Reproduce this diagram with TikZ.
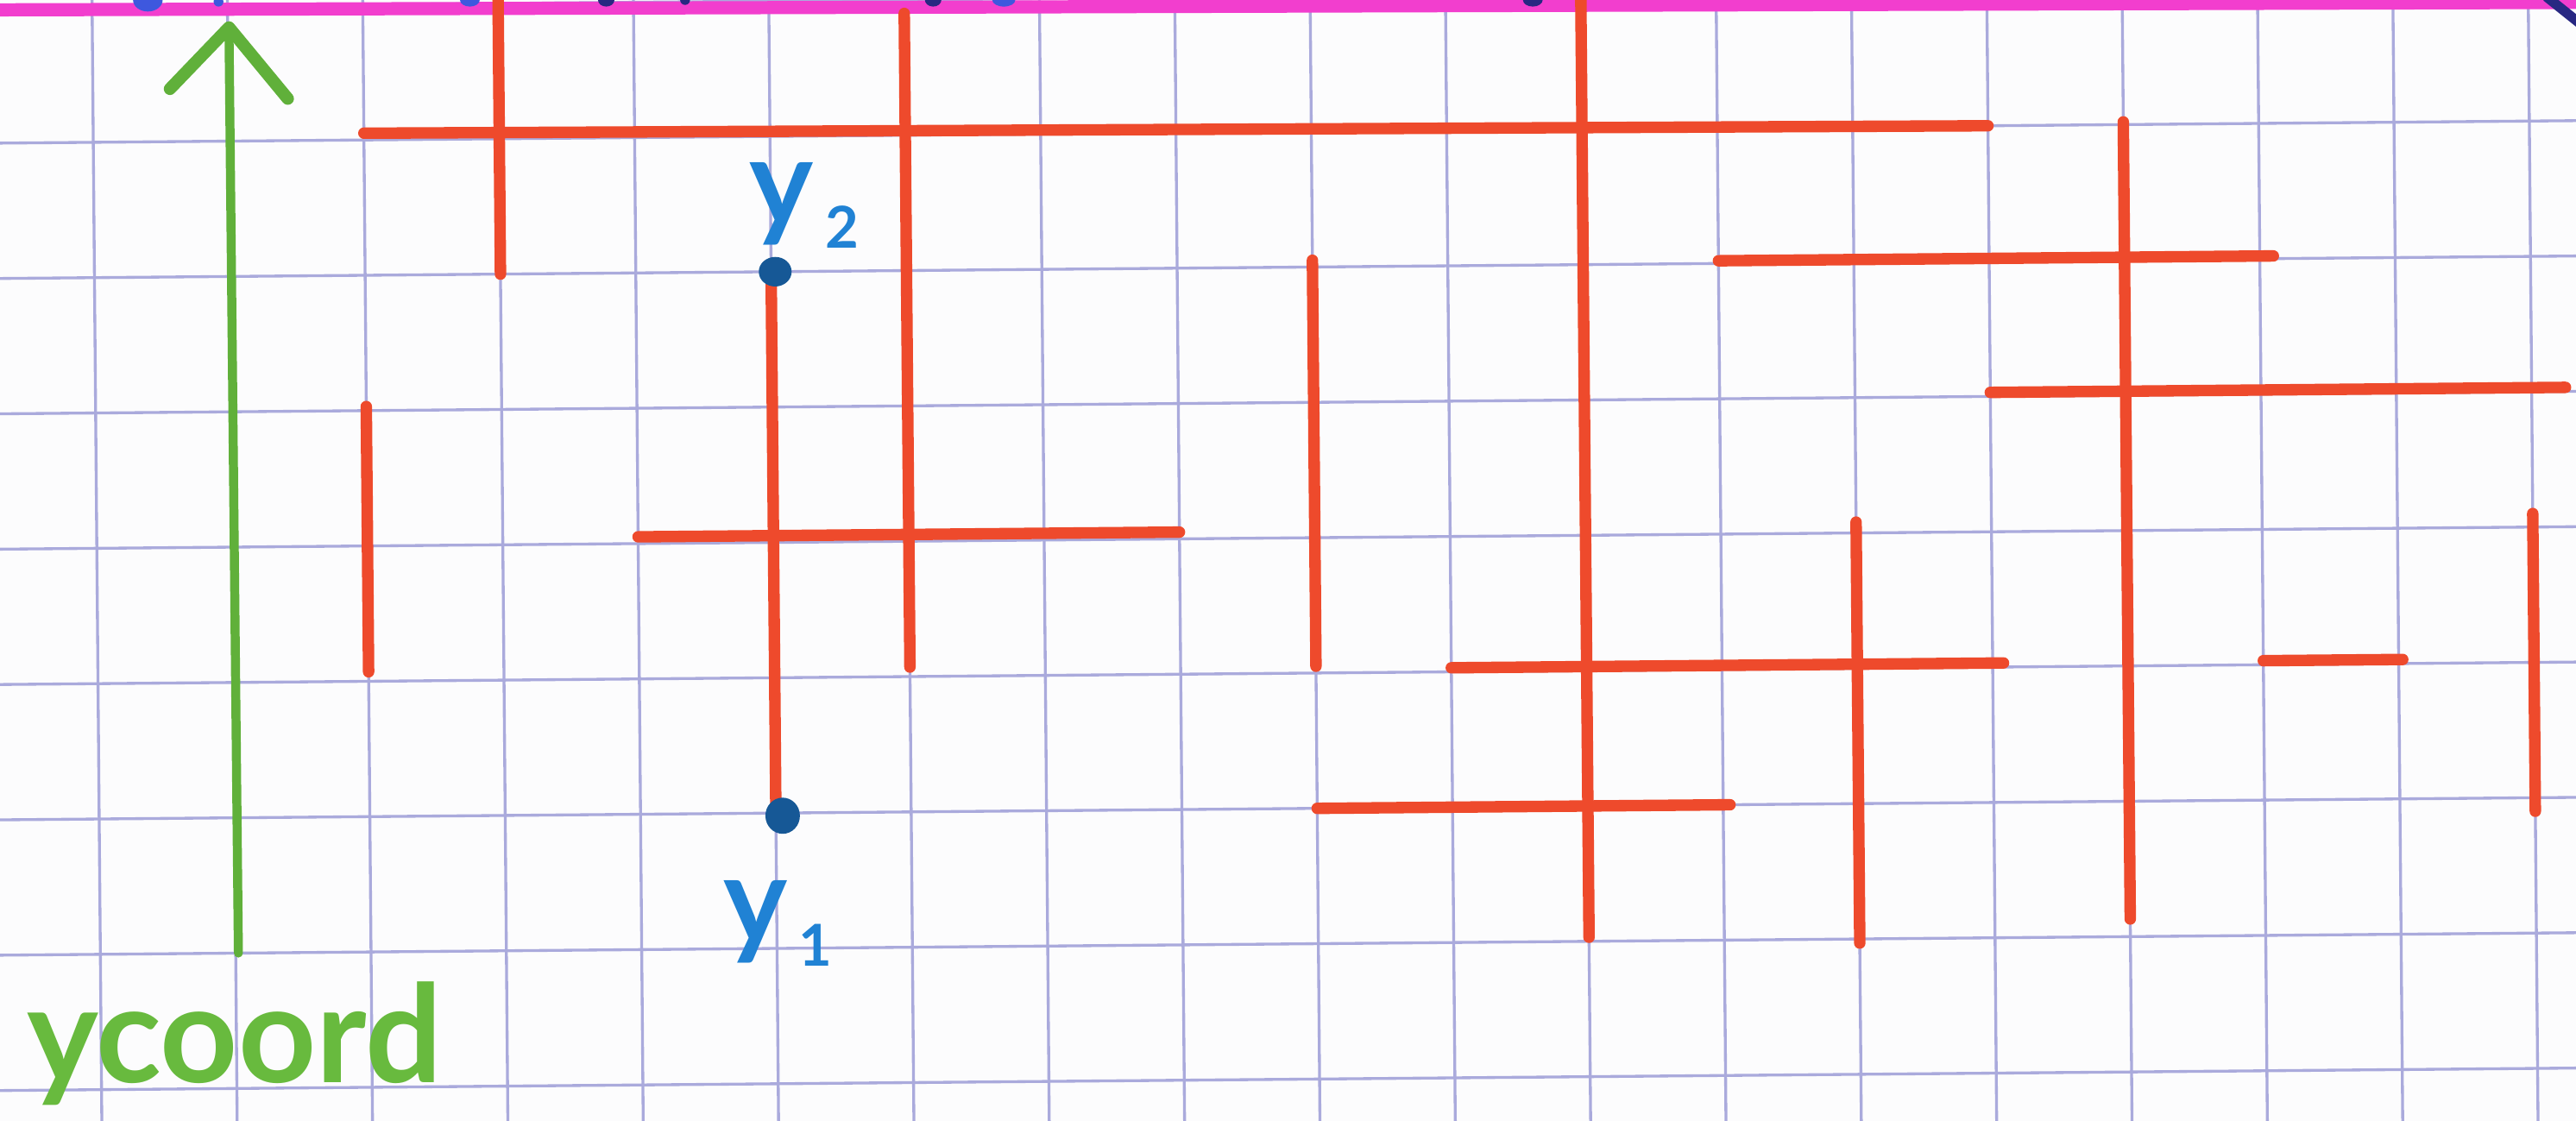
\documentclass[tikz,border=0pt]{standalone}
\usepackage{fontspec}
\newfontfamily\hand{Lato}
\definecolor{paper}{RGB}{252,252,253}
\definecolor{gridc}{RGB}{170,170,220}
\definecolor{redm}{RGB}{238,74,44}
\definecolor{greenm}{RGB}{104,186,62}
\definecolor{greenarrow}{RGB}{96,176,58}
\definecolor{bluem}{RGB}{32,130,212}
\definecolor{bluedot}{RGB}{22,88,150}
\definecolor{magm}{RGB}{242,62,206}
\definecolor{inkblue}{RGB}{62,88,222}
\definecolor{inknavy}{RGB}{40,40,130}
\tikzset{
  gridline/.style={draw=gridc, line width=0.035cm},
  redline/.style={draw=redm, line width=0.14cm, line cap=round},
  magline/.style={draw=magm, line width=0.16cm},
  axisline/.style={draw=greenarrow, line width=0.11cm, line cap=round},
  axishead/.style={draw=greenarrow, line width=0.15cm, line cap=round, line join=round},
  axislabel/.style={text=greenm, font=\hand\bfseries\fontsize{47}{47}\selectfont, inner sep=0pt, anchor=base west},
  ptlabel/.style={text=bluem, inner sep=0pt, anchor=base west},
  ptdot/.style={fill=bluedot},
}
\newcommand{\biglet}{\hand\bfseries\fontsize{42}{42}\selectfont}
\newcommand{\subdig}[1]{\hspace{4pt}\raisebox{-8pt}{\hand\bfseries\fontsize{20}{20}\selectfont #1}}
\begin{document}
\begin{tikzpicture}[x=0.02cm,y=0.02cm]
\useasboundingbox (0,0) rectangle (1568,-682);
\clip (0,0) rectangle (1568,-682);
\fill[paper] (-10,10) rectangle (1580,-690);
% graph paper grid
\begin{scope}[rotate around={0.5:(784,-341)}, shift={(59,2.1)}, x=1.648cm, y=-1.648cm]
  \foreach \i in {-1,...,19} \draw[gridline] (\i,-0.5) -- (\i,9);
  \foreach \j in {0,...,9} \draw[gridline] (-1.5,\j) -- (19.5,\j);
\end{scope}
% magenta line at the top
\draw[magline] (0,-6) -- (1568,-1.5);
% cut-off ink marks above the magenta line
\fill[inkblue] (90,0) ellipse (9 and 7);
\fill[inkblue] (133,-1) circle (3);
\fill[inkblue] (286,0) ellipse (6 and 4);
\fill[inknavy] (369,0) ellipse (5 and 4);
\fill[inknavy] (417,0) circle (3);
\fill[inknavy] (568,0) ellipse (5 and 4);
\fill[inkblue] (611,0) ellipse (7 and 4);
\fill[inknavy] (933,0) ellipse (6 and 4);
\draw[inknavy, line width=0.12cm] (1550,2) -- (1570,-14);
\begin{scope}[rotate around={0.5:(784,-341)}, shift={(59,2.1)}, x=1.648cm, y=-1.648cm]
  % red segments
  \draw[redline] (2,0.95) -- (14,1.0);
  \draw[redline] (3,-0.1) -- (3,2);
  \draw[redline] (6,0.1) -- (6,4.93);
  \draw[redline] (11,-0.1) -- (11,6.97);
  \draw[redline] (12,1.98) -- (16.1,1.98);
  \draw[redline] (15,0.98) -- (15,6.87);
  \draw[redline] (14,2.97) -- (18.25,2.97);
  \draw[redline] (2,2.97) -- (2,4.93);
  \draw[redline] (4,3.95) -- (8,3.95);
  \draw[redline] (9,1.95) -- (9,4.95);
  \draw[redline] (5,2) -- (5,6);
  \draw[redline] (10,4.97) -- (14.08,4.97);
  \draw[redline] (13,3.92) -- (13,7.03);
  \draw[redline] (9,6) -- (12.05,6);
  \draw[redline] (16,4.97) -- (17.03,4.97);
  \draw[redline] (18,3.9) -- (18,6.1);
  % green axis arrow
  \coordinate (axbot) at (1.02,7.0);
  \coordinate (axtip) at (1.01,0.16);
  \coordinate (axl) at (0.57,0.61);
  \coordinate (axr) at (1.44,0.69);
  \draw[axisline] (axbot) -- (axtip);
  \draw[axishead] (axl) -- (axtip) -- (axr);
  % blue points
  \fill[ptdot] (5.03,2) ellipse [x radius=0.2cm, y radius=0.18cm];
  \fill[ptdot] (5.05,6.02) ellipse [x radius=0.21cm, y radius=0.22cm];
\end{scope}
% labels
\node[ptlabel] (y2lab) at (456,-137) {\biglet y\subdig{2}};
\node[ptlabel] (y1lab) at (440,-574) {\biglet y\subdig{1}};
\node[axislabel] (ylab) at (16,-659) {ycoord};
\end{tikzpicture}
\end{document}
